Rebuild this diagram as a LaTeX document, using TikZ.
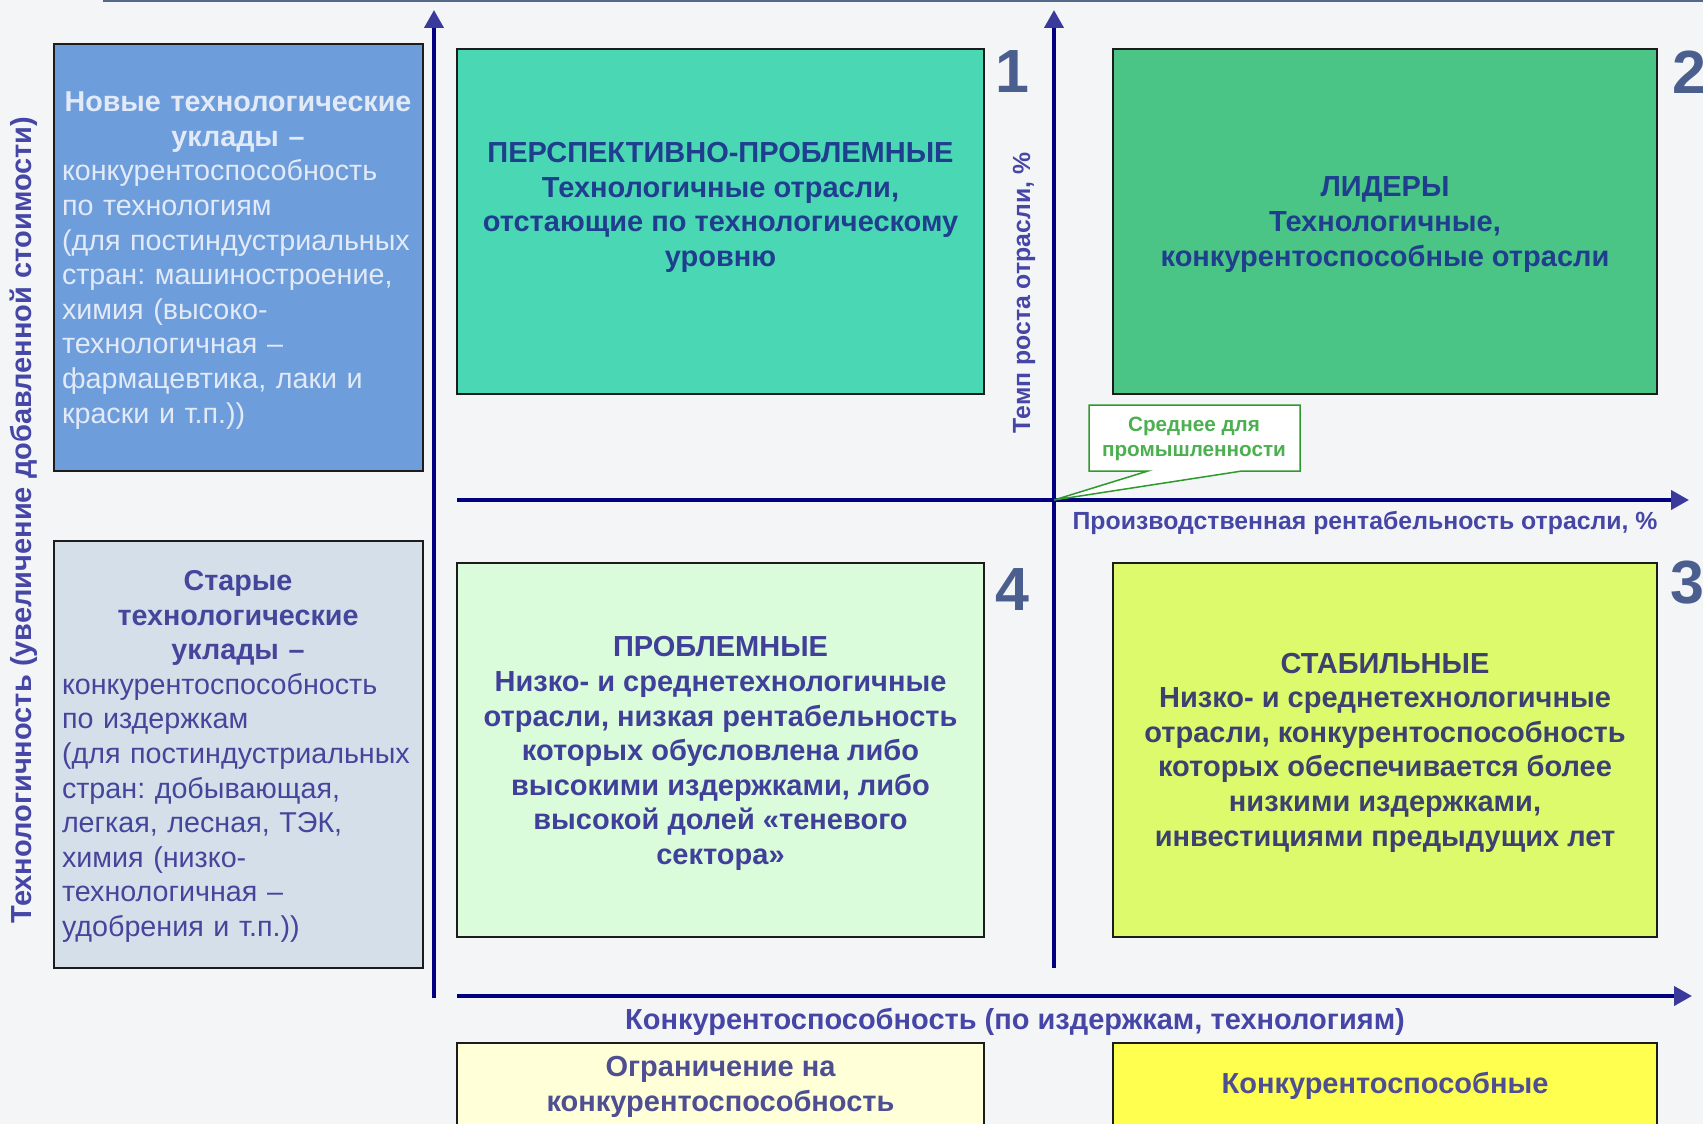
\documentclass[tikz,border=0pt]{standalone}
\usepackage{fontspec}
\setmainfont{Liberation Sans}
\frenchspacing
\usetikzlibrary{arrows.meta}

\definecolor{bgcol}{HTML}{F4F5F7}
\definecolor{topline}{HTML}{56688A}
\definecolor{boxline}{HTML}{1C1C1C}
\definecolor{axcol}{HTML}{000080}
\definecolor{axtip}{HTML}{3A3A9C}
\definecolor{labcol}{HTML}{4646A6}
\definecolor{numcol}{HTML}{4B5F8F}
\definecolor{newfill}{HTML}{6E9DDB}
\definecolor{newtext}{HTML}{E2EAF8}
\definecolor{oldfill}{HTML}{D5DFEA}
\definecolor{oldtext}{HTML}{45459B}
\definecolor{q1fill}{HTML}{4AD8B4}
\definecolor{q2fill}{HTML}{4AC586}
\definecolor{q3fill}{HTML}{DCFA6C}
\definecolor{q4fill}{HTML}{DAFCDA}
\definecolor{q12text}{HTML}{203E8E}
\definecolor{q3text}{HTML}{3C4170}
\definecolor{q4text}{HTML}{40409A}
\definecolor{limfill}{HTML}{FFFFD8}
\definecolor{compfill}{HTML}{FFFF50}
\definecolor{bottext}{HTML}{4E4E92}
\definecolor{avgline}{HTML}{2E9A2E}
\definecolor{avgtext}{HTML}{4CAF50}

\begin{document}
\begin{tikzpicture}[x=1pt,y=-1pt,
  quad/.style={draw=boxline, line width=2pt, inner sep=0pt},
  qtext/.style={align=center, inner sep=0pt, font=\fontsize{29}{34.6}\selectfont\bfseries},
  sidetext/.style={text width=352pt, align=left, inner sep=0pt, font=\fontsize{28.7}{34.6}\selectfont},
  axis/.style={draw=axcol, line width=4pt, -{Triangle[length=18pt,width=19pt,color=axtip]}},
  axlabel/.style={text=labcol, inner sep=0pt, font=\fontsize{24.8}{28}\selectfont\bfseries},
  quadnum/.style={text=numcol, inner sep=0pt, font=\fontsize{61}{70}\selectfont\bfseries}]

\useasboundingbox (0,0) rectangle (1703,1124);
\fill[bgcol] (0,0) rectangle (1703,1124);
\draw[topline, line width=2.5pt] (103,1) -- (1703,1);

%% left column
\node[quad, fill=newfill, minimum width=369pt, minimum height=427pt] (newbox) at (238.5,257.5) {};
\node[sidetext, text=newtext] (newtxt) at (238,260.5) {%
  {\centering\bfseries Новые технологические\\ уклады –\par}
  конкурентоспособность\\ по технологиям\\ (для постиндустриальных\\
  стран: машиностроение,\\ химия (высоко-\\ технологичная –\\
  фармацевтика, лаки и\\ краски и т.п.))};

\node[quad, fill=oldfill, minimum width=369pt, minimum height=427pt] (oldbox) at (238.5,754.5) {};
\node[sidetext, text=oldtext] (oldtxt) at (238,756.5) {%
  {\centering\bfseries Старые\\ технологические\\ уклады –\par}
  конкурентоспособность\\ по издержкам\\ (для постиндустриальных\\
  стран: добывающая,\\ легкая, лесная, ТЭК,\\ химия (низко-\\
  технологичная –\\ удобрения и т.п.))};

\node[axlabel, font=\fontsize{29}{32}\selectfont\bfseries, rotate=90] (techlab) at (24,520)
  {Технологичность (увеличение добавленной стоимости)};

%% quadrants
\node[quad, fill=q1fill, minimum width=527pt, minimum height=345pt] (q1) at (720.5,221.5) {};
\node[qtext, text=q12text] (q1txt) at (720.5,207.5)
  {ПЕРСПЕКТИВНО-ПРОБЛЕМНЫЕ\\ Технологичные отрасли,\\ отстающие по технологическому\\ уровню};

\node[quad, fill=q2fill, minimum width=544pt, minimum height=345pt] (q2) at (1385,221.5) {};
\node[qtext, text=q12text] (q2txt) at (1385,224.5)
  {ЛИДЕРЫ\\ Технологичные,\\ конкурентоспособные отрасли};

\node[quad, fill=q4fill, minimum width=527pt, minimum height=374pt] (q4) at (720.5,750) {};
\node[qtext, text=q4text] (q4txt) at (720.5,753.5)
  {ПРОБЛЕМНЫЕ\\ Низко- и среднетехнологичные\\ отрасли, низкая рентабельность\\
   которых обусловлена либо\\ высокими издержками, либо\\ высокой долей «теневого\\ сектора»};

\node[quad, fill=q3fill, minimum width=544pt, minimum height=374pt] (q3) at (1385,750) {};
\node[qtext, text=q3text] (q3txt) at (1385,752.5)
  {СТАБИЛЬНЫЕ\\ Низко- и среднетехнологичные\\ отрасли, конкурентоспособность\\
   которых обеспечивается более\\ низкими издержками,\\ инвестициями предыдущих лет};

%% quadrant numbers
\node[quadnum] (n1) at (1012,72) {1};
\node[quadnum] (n2) at (1689,72) {2};
\node[quadnum] (n3) at (1687,583) {3};
\node[quadnum] (n4) at (1012,590) {4};

%% bottom boxes
\node[quad, fill=limfill, minimum width=527pt, minimum height=110pt] (limbox) at (720.5,1098) {};
\node[qtext, text=bottext] (limtxt) at (720.5,1087) {Ограничение на\\ конкурентоспособность};
\node[quad, fill=compfill, minimum width=544pt, minimum height=110pt] (compbox) at (1385,1098) {};
\node[qtext, text=bottext] (comptxt) at (1385,1086) {Конкурентоспособные};

%% axes
\coordinate (leftbot) at (434,998);
\coordinate (lefttop) at (434,10);
\coordinate (midbot) at (1054,968);
\coordinate (midtop) at (1054,10);
\coordinate (origin) at (1054,500);
\coordinate (hstart) at (457,500);
\coordinate (hend) at (1689,500);
\coordinate (bstart) at (457,996);
\coordinate (bend) at (1692,996);

\draw[axis] (leftbot) -- (lefttop);
\draw[axis] (midbot) -- (midtop);
\draw[axis] (hstart) -- (hend);
\draw[axis] (bstart) -- (bend);

\node[axlabel, rotate=90] (growlab) at (1024,293) {Темп роста отрасли, \%};
\node[axlabel] (proflab) at (1365,523) {Производственная рентабельность отрасли, \%};
\node[axlabel, font=\fontsize{29}{32}\selectfont\bfseries] (complab) at (1015,1022)
  {Конкурентоспособность (по издержкам, технологиям)};

%% callout
\filldraw[draw=avgline, fill=white, line width=1.5pt, line join=miter]
  (1089,405) -- (1300,405) -- (1300,471) -- (1242,471) -- (origin)
  -- (1148,471) -- (1089,471) -- cycle;
\node[align=center, text=avgtext, inner sep=0pt, font=\fontsize{20.7}{24.5}\selectfont\bfseries]
  (avg) at (1194,439) {Среднее для\\ промышленности};

\end{tikzpicture}
\end{document}
